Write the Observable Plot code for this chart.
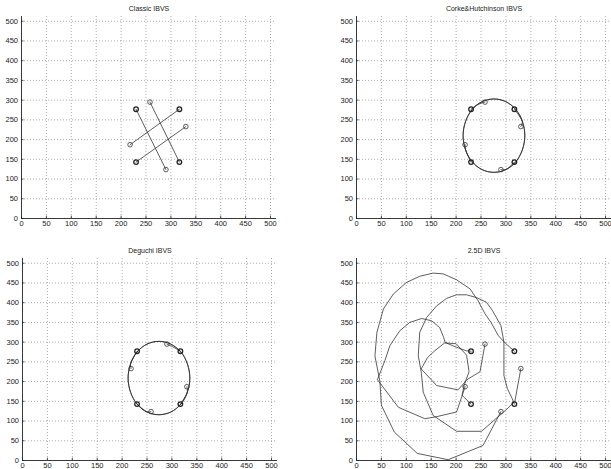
<!DOCTYPE html>
<html>
<head>
<meta charset="utf-8">
<script src="https://cdn.jsdelivr.net/npm/d3@7"></script>
<script src="https://cdn.jsdelivr.net/npm/@observablehq/plot@0.6"></script>
<style>
  html, body { margin: 0; padding: 0; background: #fff; overflow: hidden; }
  #wrap { position: relative; width: 611px; height: 469px; overflow: hidden; background: #fff; }
  #wrap > div { position: absolute; }
  #wrap svg { max-width: none !important; }
</style>
</head>
<body>
<div id="wrap"></div>
<script>
// ---- data ----
const tickValues = [0, 50, 100, 150, 200, 250, 300, 350, 400, 450, 500];
const gridValues = [50, 100, 150, 200, 250, 300, 350, 400, 450, 500];
const titles = ["Classic IBVS", "Corke&Hutchinson IBVS", "Deguchi IBVS", "2.5D IBVS"];

const endPoints = [[230, 277], [317, 277], [317, 143], [230, 143]];
const startPoints = [[258, 295], [330, 233], [290, 124], [218, 187]];
const startPointsDeguchi = [[290, 295], [330, 187], [258, 124], [218, 233]];

// Classic IBVS: straight image trajectories
const classicPaths = [
  [[258, 295], [317, 143]],
  [[290, 124], [230, 277]],
  [[218, 187], [317, 277]],
  [[330, 233], [230, 143]]
];

// Corke & Hutchinson: points travel along an ellipse (counter-clockwise)
const corkePaths = [
  [[258, 295], [244, 289], [232, 276], [219, 246], [214, 210], [219, 174], [232, 144], [252, 124], [276, 117], [300, 124], [317, 143]],
  [[330, 233], [333, 246], [320, 276], [300, 296], [276, 303], [252, 296], [232, 276], [219, 246], [214, 210], [219, 174], [230, 143]],
  [[290, 124], [300, 124], [320, 144], [333, 174], [338, 210], [333, 246], [320, 276], [300, 296], [276, 303], [252, 296], [230, 277]],
  [[218, 187], [219, 174], [232, 144], [252, 124], [276, 117], [300, 124], [320, 144], [333, 174], [338, 210], [333, 246], [317, 277]]
];

// Deguchi: points travel along an ellipse (clockwise)
const deguchiPaths = [
  [[290, 295], [318, 275], [331, 245], [336, 209], [331, 173], [318, 143], [298, 123], [274, 116], [250, 123], [230, 143]],
  [[330, 187], [331, 173], [318, 143], [298, 123], [274, 116], [250, 123], [230, 143], [217, 173], [212, 209], [217, 245], [230, 277]],
  [[258, 124], [250, 123], [230, 143], [217, 173], [212, 209], [217, 245], [230, 275], [250, 295], [274, 302], [298, 295], [317, 277]],
  [[218, 233], [217, 245], [230, 275], [250, 295], [274, 302], [298, 295], [318, 275], [331, 245], [336, 209], [331, 173], [317, 143]]
];

// 2.5D: large looping trajectories
const path25Outer = [[290, 124], [254, 38], [184, 2], [122, 18], [76, 72], [50, 140], [47, 200], [37, 265], [41, 325], [54, 384], [74, 422], [100, 451], [127, 467], [154, 475], [174, 473], [201, 458], [228, 435], [244, 405], [258, 372], [270, 350], [285, 316], [300, 296], [317, 277]];
const path25Second = [[330, 233], [318, 150], [300, 128], [251, 74], [201, 74], [154, 114], [134, 173], [130, 224], [124, 266], [127, 325], [141, 363], [161, 392], [181, 411], [201, 420], [221, 420], [241, 413], [261, 401], [273, 380], [290, 342], [296, 300], [296, 253], [296, 215], [303, 182], [313, 156], [317, 143]];
const path25Medium = [[218, 187], [201, 123], [157, 110], [137, 106], [84, 135], [42, 205], [57, 253], [67, 291], [87, 329], [107, 350], [131, 360], [151, 354], [167, 337], [175, 312], [178, 299], [201, 287], [221, 278], [230, 277]];
const path25Inner = [[258, 295], [248, 225], [222, 205], [204, 179], [161, 190], [130, 232], [142, 260], [157, 278], [177, 298], [200, 296], [221, 267], [226, 225], [216, 190], [212, 165], [230, 143]];
const paths25 = [path25Outer, path25Second, path25Medium, path25Inner];

// ---- drawing ----
const FONT = "'Liberation Sans', Arial, Helvetica, sans-serif";
const INK = "#222";

function panel({title, paths, starts, curve, left, top, width, height, marginRight, marginBottom}) {
  const marks = [
    Plot.ruleX(gridValues, {stroke: "#8a8a8a", strokeWidth: 0.7, strokeDasharray: "1,2"}),
    Plot.ruleY(gridValues, {stroke: "#8a8a8a", strokeWidth: 0.7, strokeDasharray: "1,2"}),
    Plot.ruleX([0], {stroke: INK, strokeWidth: 0.9}),
    Plot.ruleY([0], {stroke: INK, strokeWidth: 0.9}),
    Plot.ruleX(tickValues, {y1: 0, y2: 6, stroke: INK, strokeWidth: 0.8}),
    Plot.ruleY(tickValues, {x1: 0, x2: 5, stroke: INK, strokeWidth: 0.8}),
    ...paths.map(p => Plot.line(p, {x: d => d[0], y: d => d[1], curve, stroke: "#2a2a2a", strokeWidth: 0.75})),
    Plot.dot(starts, {x: d => d[0], y: d => d[1], r: 2.3, stroke: "#333", strokeWidth: 0.8, fill: "none"}),
    Plot.dot(endPoints, {x: d => d[0], y: d => d[1], r: 2.3, stroke: "#222", strokeWidth: 1.3, fill: "none"}),
    Plot.axisX(tickValues, {tickSize: 0, tickPadding: 2, fontSize: 7.5, fill: INK, tickFormat: d => String(d)}),
    Plot.axisY(tickValues, {tickSize: 0, tickPadding: 3.5, fontSize: 7.5, fill: INK, tickFormat: d => String(d)}),
    Plot.text([title], {frameAnchor: "top", dy: -8, lineAnchor: "middle", fontSize: 7, fill: INK})
  ];
  const svg = Plot.plot({
    width, height,
    marginLeft: 21, marginTop: 16, marginRight, marginBottom,
    style: {fontFamily: FONT, background: "transparent", overflow: "visible", maxWidth: "none"},
    x: {domain: [0, 512]},
    y: {domain: [0, 512]},
    marks
  });
  svg.style.maxWidth = "none";
  svg.style.width = width + "px";
  svg.style.height = height + "px";
  const holder = document.createElement("div");
  holder.style.left = left + "px";
  holder.style.top = top + "px";
  holder.style.width = width + "px";
  holder.style.height = height + "px";
  holder.appendChild(svg);
  document.getElementById("wrap").appendChild(holder);
}

panel({title: titles[0], paths: classicPaths, starts: startPoints, curve: "linear",
  left: 0, top: 0, width: 305, height: 235, marginRight: 29, marginBottom: 17});
panel({title: titles[1], paths: corkePaths, starts: startPoints, curve: "catmull-rom",
  left: 335, top: 0, width: 296, height: 235, marginRight: 20, marginBottom: 17});
panel({title: titles[2], paths: deguchiPaths, starts: startPointsDeguchi, curve: "catmull-rom",
  left: 0.7, top: 242, width: 305, height: 227, marginRight: 29, marginBottom: 9});
panel({title: titles[3], paths: paths25, starts: startPoints, curve: "linear",
  left: 335, top: 242, width: 296, height: 227, marginRight: 20, marginBottom: 9});
</script>
</body>
</html>
